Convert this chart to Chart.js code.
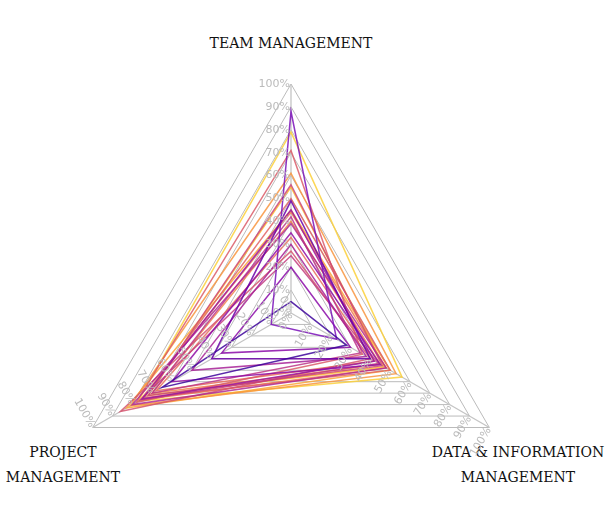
<!DOCTYPE html>
<html><head><meta charset="utf-8">
<script src="https://cdn.jsdelivr.net/npm/chart.js@4"></script>
<style>
html,body{margin:0;padding:0;width:610px;height:509px;overflow:hidden;background:#fff;font-family:"DejaVu Serif",serif;}
#wrap{position:absolute;left:0;top:54px;width:582px;height:518px;}
.lab{position:absolute;font-size:14px;color:#111;text-align:center;line-height:25px;white-space:nowrap;}
</style></head><body>
<div class="lab" style="left:191px;top:31px;width:200px;">TEAM MANAGEMENT</div>
<div class="lab" style="left:0;top:440px;width:126px;">PROJECT<br>MANAGEMENT</div>
<div class="lab" style="left:418px;top:440px;width:200px;">DATA &amp; INFORMATION<br>MANAGEMENT</div>
<div id="wrap"><canvas id="c"></canvas></div>
<script>
const axes = ["TEAM MANAGEMENT","DATA & INFORMATION MANAGEMENT","PROJECT MANAGEMENT"];
const tickValues = [0,10,20,30,40,50,60,70,80,90,100];
const teamMgmt = [5,88,49,20,35,45,30,39,42,25,56,27,71,50,33,44,40,61,45,55,79];
const dataMgmt = [28,23,40,30,45,42,38,48,35,44,46,40,36,50,42,48,45,53,50,47,56];
const projMgmt = [65,10,40,35,60,75,50,80,70,76,72,86,78,74,68,76,70,81,83,72,77];
const colors = ["#3d049b","#7a10b8","#6a00a8","#8a0ba8","#8f0da4","#9c179e","#a72197","#b12a90","#bc3587","#c33d80","#cc4778","#d5546e","#db5c68","#e16462","#e76f5a","#ed7953","#f2844b","#f89540","#fca636","#fdb72f","#fcd03a"];

const datasets = teamMgmt.map((v,i)=>({
  data:[teamMgmt[i],dataMgmt[i],projMgmt[i]],
  borderColor:colors[i]+"d9",
  borderWidth:1.5,
  fill:false,
  pointRadius:0,
  tension:0
}));

const tickPlugin = {
  id:'ticks3',
  afterDraw(chart){
    const s = chart.scales.r, ctx = chart.ctx;
    ctx.save();
    ctx.fillStyle = '#bbbbbb';
    ctx.font = '11px "DejaVu Sans"';
    ctx.textBaseline = 'middle';
    const rot = [0,-Math.PI/3,Math.PI/3];
    for (let a=0;a<3;a++){
      tickValues.forEach(t=>{
        const p = s.getPointPositionForValue(a,t);
        ctx.save();
        ctx.translate(p.x,p.y);
        ctx.rotate(rot[a]);
        ctx.textAlign = 'right';
        ctx.fillText(t+'%', -1, 0);
        ctx.restore();
      });
    }
    ctx.restore();
  }
};

new Chart(document.getElementById('c'),{
  type:'radar',
  data:{labels:axes,datasets},
  options:{
    responsive:true,maintainAspectRatio:false,animation:false,
    layout:{padding:30},
    plugins:{legend:{display:false},tooltip:{enabled:false}},
    scales:{r:{
      min:0,max:100,
      ticks:{stepSize:10,display:false},
      pointLabels:{display:false},
      grid:{color:'#bbbbbb',lineWidth:1,borderDash:[3,4]},
      angleLines:{color:'#c4c4c4',lineWidth:1.3}
    }}
  },
  plugins:[tickPlugin]
});
</script>
</body></html>
